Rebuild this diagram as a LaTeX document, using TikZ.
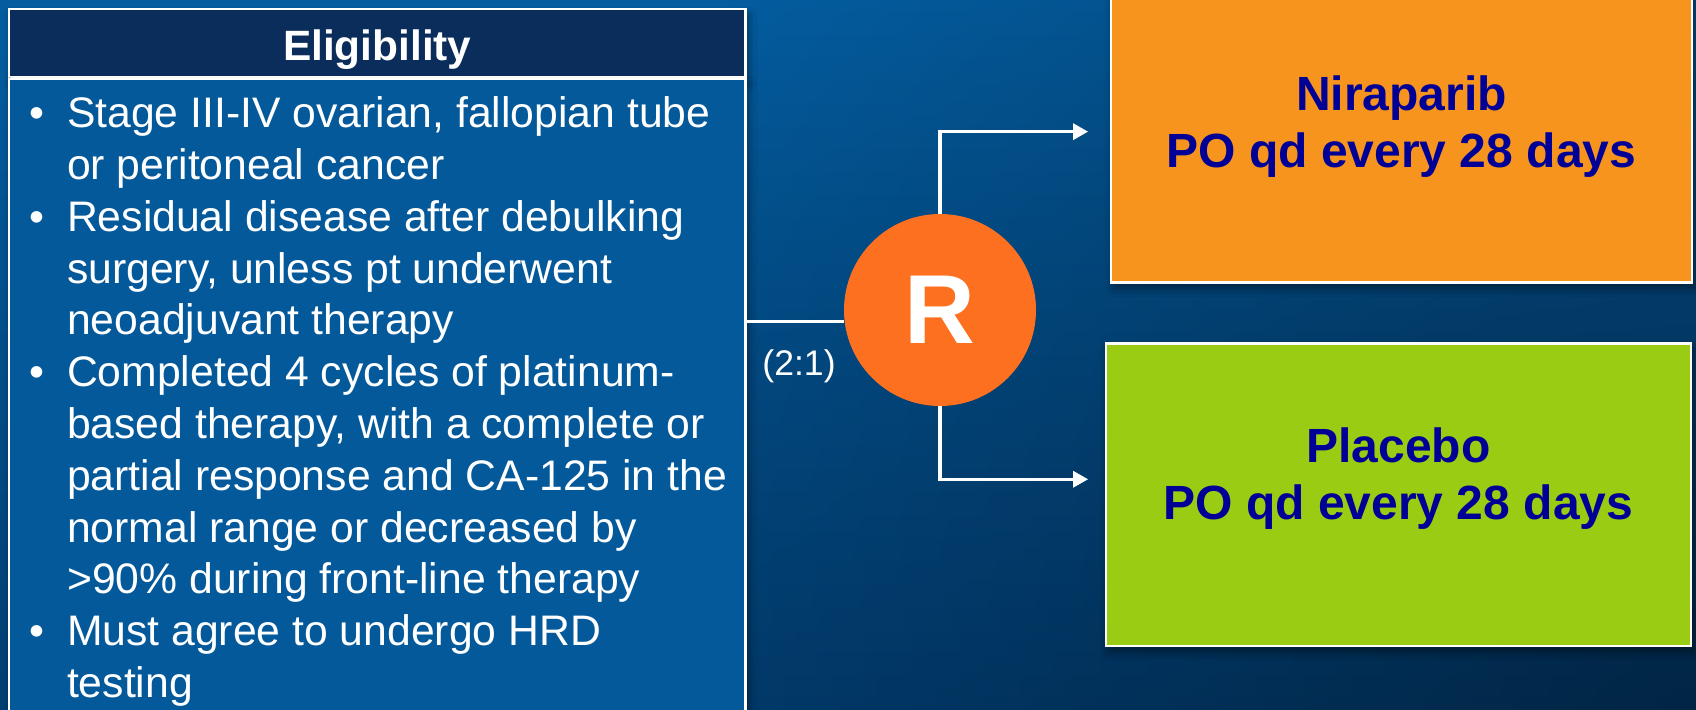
\documentclass[tikz,border=0pt]{standalone}
\usepackage{fontspec}
\setmainfont{Liberation Sans}
\usetikzlibrary{arrows.meta,shadows.blur,fadings}

\definecolor{bgtop}{HTML}{045DA0}
\definecolor{bgbot}{HTML}{023E72}
\definecolor{panelblue}{HTML}{04599A}
\definecolor{headnavy}{HTML}{0B2D5B}
\definecolor{armorange}{HTML}{F7941D}
\definecolor{armgreen}{HTML}{99CC13}
\definecolor{randorange}{HTML}{FD7020}
\definecolor{armtext}{HTML}{000096}

\tikzfading[name=cornerfade, inner color=transparent!0, outer color=transparent!100]

\newcommand\bul{\leavevmode\llap{\textbullet\hspace{11.3pt}}}

\tikzset{
  panel/.style={draw=white, line width=1.2pt, rectangle, inner sep=0pt, outer sep=0pt},
  boxshadow/.style={blur shadow={shadow xshift=1.5pt, shadow yshift=-3pt,
      shadow blur radius=4pt, shadow opacity=45}},
  armbox/.style={panel, boxshadow, text=armtext,
      font=\bfseries\fontsize{24pt}{28.5pt}\selectfont},
  link/.style={draw=white, line width=1.6pt},
  arm/.style={link, -{Triangle[length=7.5pt,width=8pt]}},
}

\begin{document}
\begin{tikzpicture}[x=0.5pt, y=-0.5pt]
\useasboundingbox (0,0) rectangle (1696,709);
\begin{scope}
  \clip (0,0) rectangle (1696,709);
  % slide background
  \shade[top color=bgtop, bottom color=bgbot] (0,0) rectangle (1696,709);
  \fill[black, opacity=0.4, path fading=cornerfade] (1696,709) circle[radius=600pt];

  % eligibility panel
  \node[panel, boxshadow, fill=headnavy, minimum width=368.25pt, minimum height=34pt,
        text=white, font=\bfseries\fontsize{21.2pt}{25pt}\selectfont,
        text height=17.75pt, text depth=0pt] (head) at (377.25,43) {Eligibility};
  \node[panel, boxshadow, fill=panelblue, minimum width=368.25pt,
        minimum height=330.5pt] (body) at (377.25,409.5) {};
  \node[anchor=base west, inner sep=0pt, text=white,
        font=\fontsize{21.35pt}{25.9pt}\selectfont] (criteria) at (66.7,127.7)
    {\parbox[t]{330pt}{%
      \bul Stage III-IV ovarian, fallopian tube\\
      or peritoneal cancer\\
      \bul Residual disease after debulking\\
      surgery, unless pt underwent\\
      neoadjuvant therapy\\
      \bul Completed 4 cycles of platinum-\\
      based therapy, with a complete or\\
      partial response and CA-125 in the\\
      normal range or decreased by\\
      >90\% during front-line therapy\\
      \bul Must agree to undergo HRD\\
      testing}};

  % treatment arms
  \node[armbox, fill=armorange, minimum width=290.65pt, minimum height=150.65pt,
        text height=0pt, text depth=21pt] (nira) at (1401.35,131.65)
    {\parbox[t]{280pt}{\centering Niraparib\\PO qd every 28 days}};
  \node[armbox, fill=armgreen, minimum width=292.65pt, minimum height=151.35pt,
        text height=0pt, text depth=32pt] (placebo) at (1398.35,494.65)
    {\parbox[t]{280pt}{\centering Placebo\\PO qd every 28 days}};

  % randomisation
  \node[circle, fill=randorange, minimum size=96pt, inner sep=0pt, text=white,
        font=\bfseries\fontsize{49pt}{52pt}\selectfont] (R) at (940,310) {R};
  \node[anchor=base, inner sep=0pt, text=white,
        font=\fontsize{17.8pt}{20pt}\selectfont] (ratio) at (799,375) {(2:1)};

  \coordinate (splitrow) at (800,321.7);
  \coordinate (tipA) at ([xshift=-11.3pt]nira.west);
  \coordinate (tipB) at ([xshift=-8.8pt,yshift=7.7pt]placebo.west);
  \draw[link] (body.east |- splitrow) -- (splitrow -| R.west);
  \draw[arm] (R.north) |- (tipA);
  \draw[arm] (R.south) |- (tipB);
\end{scope}
\end{tikzpicture}
\end{document}
